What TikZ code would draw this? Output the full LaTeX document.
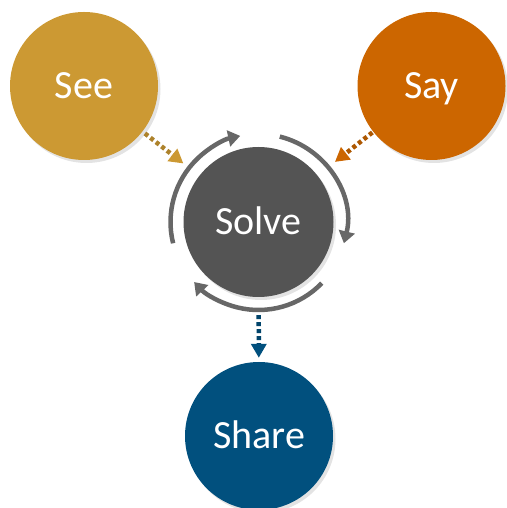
\documentclass[tikz,border=0pt]{standalone}
\usepackage{fontspec}
\setmainfont{Carlito}
\usetikzlibrary{arrows.meta,shadows,calc}
\definecolor{seec}{HTML}{CC9933}
\definecolor{sayc}{HTML}{CC6600}
\definecolor{solvec}{HTML}{545454}
\definecolor{sharec}{HTML}{01507E}
\definecolor{cycc}{HTML}{676767}
\begin{document}
\begin{tikzpicture}[x=1pt,y=1pt,
  bubble/.style={circle, minimum size=148pt, inner sep=0pt, text=white,
    font=\fontsize{40}{48}\selectfont, text height=25.8pt, text depth=0pt,
    drop shadow={shadow xshift=2.5pt, shadow yshift=-3pt, opacity=0.22}},
  cyc/.style={draw=cycc, line width=4.5pt, -{Triangle[length=12pt,width=16pt]}},
  dotlink/.style={line width=4.5pt, dash pattern=on 4pt off 3pt,
    -{Triangle[length=14pt,width=15pt,color=#1]}, draw=#1!85!black}]
\useasboundingbox (0,0) rectangle (506,508);
\node[bubble, fill=seec] (see) at (84,422) {See};
\node[bubble, fill=sayc] (say) at (431.5,422) {Say};
\node[bubble, fill=solvec, minimum size=150pt] (solve) at (258.5,286) {Solve};
\node[bubble, fill=sharec] (share) at (259,72) {Share};
\draw[cyc] ($(solve.center)+(194:88)$) arc[start angle=194, end angle=102, radius=88];
\draw[cyc] ($(solve.center)+(76:88)$) arc[start angle=76, end angle=-14, radius=88];
\draw[cyc] ($(solve.center)+(-44:88)$) arc[start angle=-44, end angle=-137, radius=88];
\draw[dotlink=seec, shorten <=3pt, shorten >=20pt] (see) -- (solve);
\draw[dotlink=sayc, shorten <=1pt, shorten >=22pt] (say) -- (solve);
\draw[dotlink=sharec, shorten <=18pt, shorten >=4pt] (solve) -- (share);
\end{tikzpicture}
\end{document}
